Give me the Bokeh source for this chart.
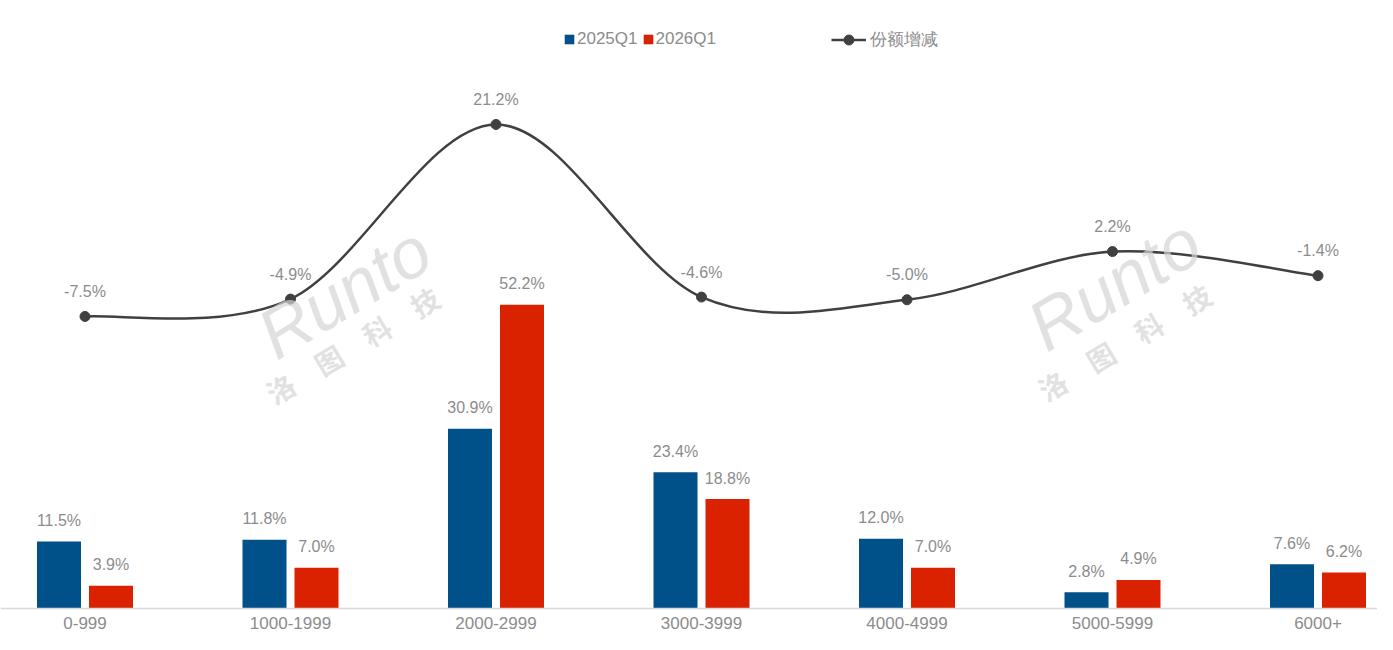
import numpy as np
from bokeh.plotting import figure
from bokeh.models import (Range1d, ColumnDataSource, Legend, LegendItem, Label, Span)
from bokeh.core.properties import value
from bokeh.embed import file_html
from bokeh.resources import INLINE

# ---- data ----
categories = ["0-999", "1000-1999", "2000-2999", "3000-3999", "4000-4999", "5000-5999", "6000+"]
share_2025q1 = [11.5, 11.8, 30.9, 23.4, 12.0, 2.8, 7.6]
share_2026q1 = [3.9, 7.0, 52.2, 18.8, 7.0, 4.9, 6.2]
share_change = [-7.5, -4.9, 21.2, -4.6, -5.0, 2.2, -1.4]
series_names = ["2025Q1", "2026Q1", "份额增减"]

# ---- styles ----
BLUE = "#00508A"
RED = "#DA2100"
LINE = "#404040"
GRAY_TXT = "#8C8C8C"
LBL_FONT = value("Liberation Sans")

W, H = 1377, 634
BASE_Y = 608            # pixel row of the value-0 baseline (from top)
cat_px = 205.5
first_center = 84.5
x_start = -first_center / cat_px
x_end = x_start + W / cat_px
bar_px = 5.82
line_px = 6.69
line_zero_y = 265.8     # pixel row of share change 0 (from top)

p = figure(width=W, height=H, output_backend="svg", toolbar_location=None,
           x_range=Range1d(x_start, x_end),
           y_range=Range1d(-(H - BASE_Y) / bar_px, BASE_Y / bar_px),
           x_axis_location=None, y_axis_location=None,
           min_border_left=0, min_border_right=0, min_border_top=0, min_border_bottom=0,
           outline_line_color=None, background_fill_color="white")
p.extra_y_ranges = {"share": Range1d(-(H - line_zero_y) / line_px, line_zero_y / line_px)}
p.xgrid.visible = False
p.ygrid.visible = False

idx = np.arange(len(categories))
off = 26 / cat_px
bw = 44 / cat_px

src = ColumnDataSource(dict(
    x=idx, xb=idx - off, xr=idx + off, zero=[0] * len(categories), cat=categories,
    a=share_2025q1, b=share_2026q1, c=share_change,
    la=[f"{v:.1f}%" for v in share_2025q1],
    lb=[f"{v:.1f}%" for v in share_2026q1],
    lc=[f"{v:.1f}%" for v in share_change],
))

# watermark
WM = "#D4D4D4"
for (xr_, yr_, xc_, yc_) in [(264, H - 340, 268, H - 395), (1034, H - 332, 1040, H - 392)]:
    p.add_layout(Label(x=xr_, y=yr_, x_units="screen", y_units="screen", text="Runto",
                       angle=31, angle_units="deg", text_font="Liberation Sans",
                       text_font_style="italic", text_font_size="70px",
                       text_baseline="alphabetic", text_color=WM, text_alpha=0.7))
    p.add_layout(Label(x=xc_, y=yc_, x_units="screen", y_units="screen", text="洛　图　科　技",
                       angle=31, angle_units="deg", text_font="Noto Sans CJK SC",
                       text_font_style="bold", text_font_size="28px",
                       text_baseline="alphabetic", text_color=WM, text_alpha=0.7))

# baseline
p.add_layout(Span(location=0, dimension="width", line_color="#D9D9D9", line_width=1.5))

r_a = p.vbar(x="xb", top="a", width=bw, source=src, fill_color=BLUE, line_color=None)
r_b = p.vbar(x="xr", top="b", width=bw, source=src, fill_color=RED, line_color=None)

p.text(x="xb", y="a", text="la", source=src, text_align="center", text_baseline="middle",
       y_offset=-21, text_font=LBL_FONT, text_font_size="16px", text_color=GRAY_TXT)
p.text(x="xr", y="b", text="lb", source=src, text_align="center", text_baseline="middle",
       y_offset=-21, text_font=LBL_FONT, text_font_size="16px", text_color=GRAY_TXT)

# category labels
p.text(x="x", y="zero", text="cat", source=src, text_align="center", text_baseline="middle",
       y_offset=14, text_font=LBL_FONT, text_font_size="17px", text_color=GRAY_TXT)

# smooth line (Catmull-Rom -> cubic Bezier)
xs = idx.astype(float)
ys = np.array(share_change, dtype=float)
xp = np.concatenate([[xs[0]], xs, [xs[-1]]])
yp = np.concatenate([[ys[0]], ys, [ys[-1]]])
n = len(xs)
x0, y0 = xs[:-1], ys[:-1]
x1, y1 = xs[1:], ys[1:]
cx0 = x0 + (xp[2:n + 1] - xp[0:n - 1]) / 6
cy0 = y0 + (yp[2:n + 1] - yp[0:n - 1]) / 6
cx1 = x1 - (xp[3:n + 2] - xp[1:n]) / 6
cy1 = y1 - (yp[3:n + 2] - yp[1:n]) / 6
r_line = p.bezier(x0=x0, y0=y0, x1=x1, y1=y1, cx0=cx0, cy0=cy0, cx1=cx1, cy1=cy1,
                  line_color=LINE, line_width=2.5, y_range_name="share")
r_dot = p.scatter(x="x", y="c", source=src, size=10, fill_color=LINE, line_color=LINE,
                  y_range_name="share")
p.text(x="x", y="c", text="lc", source=src, text_align="center", text_baseline="middle",
       y_offset=-25, text_font=LBL_FONT, text_font_size="16px", text_color=GRAY_TXT,
       y_range_name="share")

# legends
leg1 = Legend(items=[LegendItem(label=series_names[0], renderers=[r_a]),
                     LegendItem(label=series_names[1], renderers=[r_b])],
              orientation="horizontal", location=(563, H - 39 - 10), padding=0, margin=0,
              spacing=4, glyph_width=12, glyph_height=12, label_standoff=2,
              label_height=20, label_text_font="Liberation Sans",
              label_text_font_size="17px", label_text_color=GRAY_TXT,
              border_line_color=None, background_fill_alpha=0)
leg2 = Legend(items=[LegendItem(label=series_names[2], renderers=[r_line, r_dot])],
              orientation="horizontal", location=(831, H - 39 - 12.5), padding=0, margin=0,
              glyph_width=35, glyph_height=25, label_standoff=4, label_height=25,
              label_text_font="Liberation Sans", label_text_font_size="17px",
              label_text_color=GRAY_TXT, border_line_color=None, background_fill_alpha=0)
p.add_layout(leg1)
p.add_layout(leg2)

open("out.html", "w").write(file_html(p, INLINE))
